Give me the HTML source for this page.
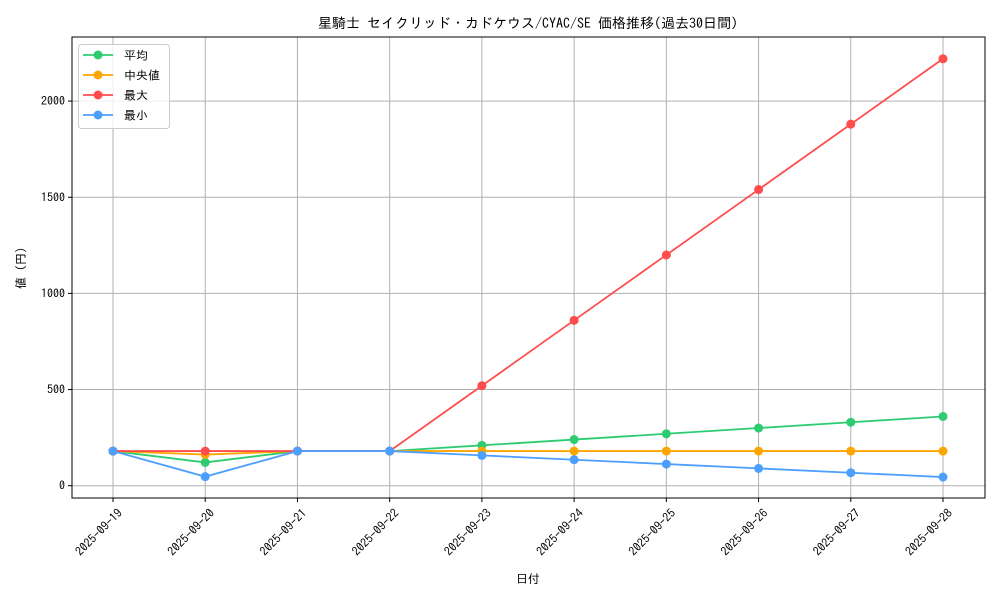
<!DOCTYPE html>
<html><head><meta charset="utf-8"><style>
body{margin:0;background:#fff;}
svg text{font-family:"IPAGothic","Noto Sans CJK JP",sans-serif;fill:#000;}
</style></head><body>
<svg id="chart" width="1000" height="600" xmlns="http://www.w3.org/2000/svg">
<text x="528" y="28" text-anchor="middle" font-size="14">星騎士 セイクリッド・カドケウス/CYAC/SE 価格推移(過去30日間)</text>
<text x="528" y="583" text-anchor="middle" font-size="12">日付</text>
<text x="25" y="268" text-anchor="middle" font-size="12" transform="rotate(-90 25 268)">値 (円)</text>
<g id="grid"></g><g id="series"></g><g id="axes"></g>
</svg>
<script>
const categories=["2025-09-19","2025-09-20","2025-09-21","2025-09-22","2025-09-23","2025-09-24","2025-09-25","2025-09-26","2025-09-27","2025-09-28"];
const avgValues=[180,121,180,180,210,240,270,300,330,360];
const medianValues=[180,162,180,180,180,180,180,180,180,180];
const maxValues=[180,180,180,180,520,860,1200,1540,1880,2220];
const minValues=[180,47,180,180,157.5,135,112.5,90,67.5,45];
const yTicks=[0,500,1000,1500,2000];
const seriesNames=["平均","中央値","最大","最小"];
const seriesColors=["#2ecc71","#ffa500","#ff4d4d","#4d9fff"];

const NS="http://www.w3.org/2000/svg";
const L=72,R=985,T=37,B=498;
const x=i=>113+i*(943-113)/(categories.length-1);
const y=v=>485.7-v*0.1923;
function mk(tag,attrs,parent){const e=document.createElementNS(NS,tag);for(const k in attrs)e.setAttribute(k,attrs[k]);parent.appendChild(e);return e;}
const grid=document.getElementById('grid'),ser=document.getElementById('series'),axes=document.getElementById('axes');
categories.forEach((c,i)=>{
 const g=mk('line',{x1:x(i),x2:x(i),y1:T,y2:B,stroke:'#b0b0b0','stroke-width':1},grid);
 
 
 const t=mk('line',{x1:x(i),x2:x(i),y1:B,y2:B+4,stroke:'#000'},axes);
 
 
 const lb=mk('text',{x:x(i)+4,y:B+10,'font-size':12,'text-anchor':'end',transform:`rotate(-45 ${x(i)+4} ${B+10})`,dy:'0.7em'},axes);
 lb.textContent=c;
 
 
});
yTicks.forEach(v=>{
 const g=mk('line',{x1:L,x2:R,y1:y(v),y2:y(v),stroke:'#b0b0b0','stroke-width':1},grid);
 
 
 const t=mk('line',{x1:L-4,x2:L,y1:y(v),y2:y(v),stroke:'#000'},axes);
 
 
 const lb=mk('text',{x:L-7,y:y(v)+4,'font-size':12,'text-anchor':'end'},axes);
 lb.textContent=v;
 
 
});
const frame=mk('rect',{x:L,y:T,width:R-L,height:B-T,fill:'none',stroke:'#000','stroke-width':1},axes);


const allSeries=[avgValues,medianValues,maxValues,minValues];
const keys=['avg','median','max','min'];
allSeries.forEach((vals,s)=>{
 const g=mk('g',{},ser);
 
 
 const p=mk('polyline',{points:vals.map((v,i)=>x(i)+','+y(v)).join(' '),fill:'none',stroke:seriesColors[s],'stroke-width':1.8},g);
 
 
 vals.forEach((v,i)=>{
  const c=mk('circle',{cx:x(i),cy:y(v),r:4.5,fill:seriesColors[s]},g);
  
  
 });
});
const lg=mk('g',{},axes);


mk('rect',{x:78.5,y:44.5,width:91,height:84,rx:3,fill:'#fff','fill-opacity':0.8,stroke:'#ccc'},lg);
seriesNames.forEach((n,s)=>{
 const yy=55+s*20;
 const e=mk('g',{},lg);
 
 
 mk('line',{x1:83,x2:113,y1:yy,y2:yy,stroke:seriesColors[s],'stroke-width':1.8},e);
 mk('circle',{cx:98,cy:yy,r:4.5,fill:seriesColors[s]},e);
 const t=mk('text',{x:124,y:yy+4.5,'font-size':12},e);
 t.textContent=n;
});
</script>
</body></html>
